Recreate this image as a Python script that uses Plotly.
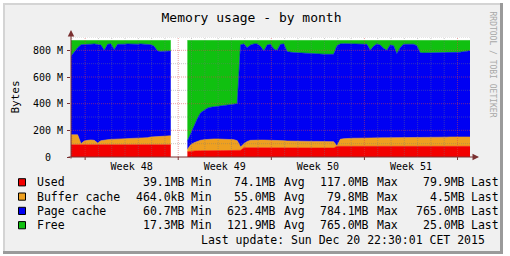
import pandas as pd
import plotly.graph_objects as go

# ---------------- data (MB, 6-hour samples from 2015-11-20 22:30; None = no data) ----------------
start_time = "2015-11-20 22:30"
end_time = "2015-12-20 22:30"
step = "6h"

used = [
    92, 92, 92, 92, 92, 92, 92, 92, 92, 92,
    92, 92, 92, 92, 92, 92, 92, 92, 92, 92,
    92, 92, 92, 92, 92, 92, 92, 92, 92, 92,
    92,
    None, None, None, None,
    40, 44, 46, 47, 47, 48, 48, 48, 48, 48,
    48, 48, 48, 48, 48, 48, 50, 70, 70, 70,
    69, 69, 68, 68, 68, 67, 67, 67, 67, 67,
    67, 67, 67, 67, 67, 67, 67, 67, 67, 67,
    67, 67, 67, 67, 67, 80, 80, 80, 80, 80,
    80, 80, 80, 80, 80, 80, 80, 80, 80, 80,
    80, 80, 80, 80, 80, 80, 80, 80, 80, 80,
    80, 80, 80, 80, 80, 80, 80, 80, 80, 80,
    80, 80, 80, 80, 80, 80,
]
buffer_cache = [
    75, 75, 74, 8, 28, 33, 36, 33, 13, 30,
    36, 38, 40, 41, 42, 43, 44, 44, 45, 46,
    47, 48, 50, 53, 58, 60, 63, 64, 66, 67,
    67,
    None, None, None, None,
    17, 48, 61, 71, 79, 82, 85, 87, 87, 87,
    85, 85, 85, 83, 82, 74, 25, 30, 47, 55,
    58, 58, 59, 59, 59, 60, 59, 58, 57, 55,
    53, 52, 51, 51, 51, 50, 50, 50, 50, 50,
    50, 50, 50, 49, 48, 2, 53, 57, 60, 61,
    61, 61, 62, 62, 62, 62, 63, 63, 63, 64,
    64, 64, 65, 65, 65, 65, 66, 66, 66, 67,
    67, 67, 67, 68, 68, 68, 69, 69, 69, 70,
    70, 70, 70, 70, 70, 70,
]
page_cache = [
    588, 623, 654, 742, 725, 723, 718, 723, 740, 718,
    672, 715, 716, 672, 711, 713, 710, 712, 709, 710,
    707, 708, 704, 700, 692, 678, 640, 636, 635, 636,
    636,
    None, None, None, None,
    61, 83, 120, 169, 206, 221, 233, 238, 242, 246,
    252, 252, 255, 261, 266, 278, 767, 748, 703, 715,
    721, 721, 703, 668, 713, 719, 684, 675, 721, 726,
    670, 666, 665, 664, 662, 661, 659, 658, 657, 656,
    655, 654, 653, 654, 655, 753, 715, 713, 710, 708,
    709, 708, 708, 706, 703, 658, 687, 705, 697, 671,
    656, 696, 690, 630, 675, 700, 700, 702, 700, 688,
    635, 633, 633, 632, 633, 633, 633, 633, 634, 633,
    634, 635, 636, 640, 645, 647,
]
free = [
    119, 84, 54, 32, 29, 26, 28, 26, 29, 34,
    74, 29, 26, 69, 29, 26, 28, 26, 28, 26,
    28, 26, 28, 29, 32, 44, 79, 82, 81, 79,
    79,
    None, None, None, None,
    756, 699, 647, 587, 542, 523, 508, 501, 497, 493,
    489, 489, 486, 482, 478, 474, 32, 26, 54, 34,
    26, 26, 44, 79, 34, 28, 64, 74, 29, 26,
    84, 89, 91, 92, 94, 96, 98, 99, 100, 101,
    102, 103, 104, 104, 104, 39, 26, 24, 24, 25,
    24, 25, 24, 26, 29, 74, 44, 26, 34, 59,
    74, 34, 39, 99, 54, 29, 28, 26, 28, 39,
    92, 94, 94, 94, 93, 93, 92, 92, 91, 91,
    90, 89, 88, 84, 79, 77,
]

series_names = ["Used", "Buffer cache", "Page cache", "Free"]
series_colors = ["#F20000", "#EEA020", "#0000F2", "#10C010"]
stat_min = ["39.1MB", "464.0kB", "60.7MB", "17.3MB"]
stat_avg = ["74.1MB", "55.0MB", "623.4MB", "121.9MB"]
stat_max = ["117.0MB", "79.8MB", "784.1MB", "765.0MB"]
stat_last = ["79.9MB", "4.5MB", "765.0MB", "25.0MB"]

week_starts = ["2015-11-22", "2015-11-29", "2015-12-06", "2015-12-13"]
week_labels = ["Week 48", "Week 49", "Week 50", "Week 51"]
y_ticks = [0, 200, 400, 600, 800]
y_ticktext = ["0\u00a0\u00a0", "200 M", "400 M", "600 M", "800 M"]
y_max = 900
y_minor_step = 100

title_text = "Memory usage - by month"
footer_text = "Last update: Sun Dec 20 22:30:01 CET 2015"
watermark = "RRDTOOL / TOBI OETIKER"

# ---------------- build ----------------
times = pd.date_range(start_time, periods=len(used), freq=step)
series = [used, buffer_cache, page_cache, free]

# split into contiguous segments of known data
segments = []
cur = []
for i, v in enumerate(used):
    if v is None:
        if cur:
            segments.append(cur)
            cur = []
    else:
        cur.append(i)
if cur:
    segments.append(cur)

fig = go.Figure()
for k, idx in enumerate(segments):
    xs = [times[i] for i in idx]
    for name, col, vals in zip(series_names, series_colors, series):
        fig.add_trace(go.Scatter(
            x=xs, y=[vals[i] for i in idx], name=name, mode="lines",
            stackgroup=f"seg{k}", line=dict(width=0.6, color=col),
            fillcolor=col, showlegend=False, hoverinfo="skip"))

PL, PR, PT, PB = 71, 470, 37, 157
W, H = 510, 256


def px(x):
    return (x - PL) / (PR - PL)


def py(y):
    return (PB - y) / (PB - PT)


MONO = "DejaVu Sans Mono"
AXIS = "#7A3030"
MINOR = "rgba(120,120,120,0.40)"
MAJOR = "rgba(215,70,70,0.50)"

shapes = []
# outer white margin + 3D frame
for (x0, y0, x1, y1, c) in [
    (0, 0, W, 3, "white"), (0, 0, 3, H, "white"),
    (503, 0, W, H, "white"), (0, 254, W, H, "white"),
    (3, 3, 503, 5, "#D4D4D4"), (3, 3, 5, 254, "#D4D4D4"),
    (500, 3, 503, 254, "#9A9A9A"), (3, 251, 503, 254, "#9A9A9A"),
]:
    shapes.append(dict(type="rect", xref="paper", yref="paper",
                       x0=px(x0), x1=px(x1), y0=py(y1), y1=py(y0),
                       fillcolor=c, line=dict(width=0), layer="below"))

# grid (drawn over the areas like rrdtool)
days = pd.date_range(pd.Timestamp(start_time).ceil("D"), pd.Timestamp(end_time), freq="D")
for d in days:
    col = MAJOR if d.weekday() == 6 else MINOR
    shapes.append(dict(type="line", xref="x", yref="y", x0=d, x1=d, y0=0, y1=y_max,
                       line=dict(color=col, width=1, dash="1px,1px"), layer="above"))
    if d.weekday() == 6:
        shapes.append(dict(type="line", xref="x", yref="paper", x0=d, x1=d, y0=0, y1=py(160),
                           line=dict(color=AXIS, width=1), layer="above"))
for v in range(y_minor_step, y_max + 1, y_minor_step):
    col = MAJOR if v in y_ticks else MINOR
    shapes.append(dict(type="line", xref="paper", yref="y", x0=0, x1=1, y0=v, y1=v,
                       line=dict(color=col, width=1, dash="1px,1px"), layer="above"))

annotations = []
# axes with arrows
annotations.append(dict(xref="paper", yref="paper", x=0, y=py(30), ax=0, ay=130,
                        text="", showarrow=True, arrowhead=2, arrowsize=1.3,
                        arrowwidth=1, arrowcolor=AXIS, standoff=0))
annotations.append(dict(xref="paper", yref="paper", x=px(479), y=0, ax=-412, ay=0,
                        text="", showarrow=True, arrowhead=2, arrowsize=1.3,
                        arrowwidth=1, arrowcolor=AXIS, standoff=0))
# y title
annotations.append(dict(xref="paper", yref="paper", x=px(14.5), y=py(97), text="Bytes",
                        textangle=-90, showarrow=False, xanchor="center", yanchor="middle",
                        font=dict(family=MONO, size=11, color="black")))
# watermark
annotations.append(dict(xref="paper", yref="paper", x=px(492.5), y=py(64), text=watermark,
                        textangle=90, showarrow=False, xanchor="center", yanchor="middle",
                        font=dict(family=MONO, size=8, color="#A8A8A8")))

# legend
row_y = [182.3, 196.6, 210.9, 225.2]
LF = dict(family=MONO, size=11.5, color="black")


def txt(x, y, s, anchor):
    annotations.append(dict(xref="paper", yref="paper", x=px(x), y=py(y), text=s,
                            showarrow=False, xanchor=anchor, yanchor="middle",
                            borderpad=0, font=LF))


for i, name in enumerate(series_names):
    yc = row_y[i]
    shapes.append(dict(type="rect", xref="paper", yref="paper",
                       x0=px(18.5), x1=px(25.5), y0=py(yc + 3.6), y1=py(yc - 3.6),
                       fillcolor=series_colors[i], line=dict(color="black", width=1),
                       layer="above"))
    txt(36, yc, name, "left")
    txt(186, yc, stat_min[i], "right")
    txt(190, yc, "Min", "left")
    txt(277, yc, stat_avg[i], "right")
    txt(283, yc, "Avg", "left")
    txt(370, yc, stat_max[i], "right")
    txt(376, yc, "Max", "left")
    txt(466, yc, stat_last[i], "right")
    txt(469.5, yc, "Last", "left")
txt(486, 239.5, footer_text, "right")

week_centers = [pd.Timestamp(w) + pd.Timedelta(hours=84) for w in week_starts]

fig.update_layout(
    width=W, height=H,
    margin=dict(l=PL, r=W - PR, t=PT, b=H - PB, pad=0),
    paper_bgcolor="#F0F0F0", plot_bgcolor="white",
    showlegend=False,
    title=dict(text=title_text, x=251.5 / W, y=1 - 17 / H, xanchor="center",
               yanchor="middle", font=dict(family=MONO, size=13, color="black")),
    xaxis=dict(type="date", range=[start_time, end_time], tickmode="array",
               tickvals=week_centers, ticktext=week_labels, ticks="",
               showgrid=False, zeroline=False, showline=False,
               tickfont=dict(family=MONO, size=10, color="black"),
               ticklabelstandoff=2),
    yaxis=dict(range=[0, y_max], tickmode="array", tickvals=y_ticks, ticktext=y_ticktext,
               ticks="outside", ticklen=3, tickcolor=AXIS, showgrid=False,
               zeroline=False, showline=False,
               tickfont=dict(family=MONO, size=10, color="black"),
               ticklabelstandoff=2),
    shapes=shapes, annotations=annotations,
)

fig.write_html("out.html")
